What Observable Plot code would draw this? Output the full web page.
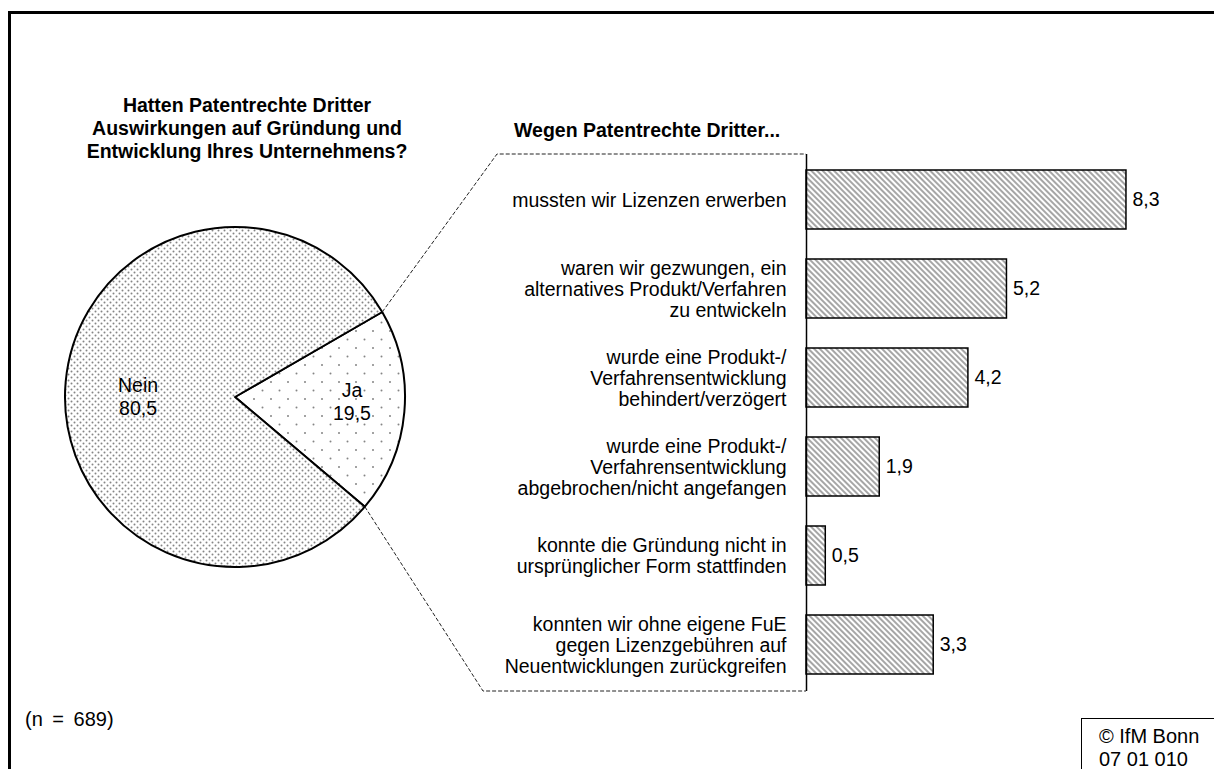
<!DOCTYPE html>
<html><head><meta charset="utf-8">
<script src="https://cdn.jsdelivr.net/npm/d3@7"></script>
<script src="https://cdn.jsdelivr.net/npm/@observablehq/plot@0.6"></script>
<style>
html,body{margin:0;padding:0;overflow:hidden;background:#fff;width:1214px;height:769px}
#wrap{position:relative;width:1214px;height:769px;font-family:"Liberation Sans",Arial,sans-serif;color:#000;overflow:hidden}
.abs{position:absolute;white-space:nowrap}
#wrap svg{position:absolute;left:0;top:0}
</style></head><body><div id="wrap"></div>
<script>
// ---- data ----
const pieLabels = ["Ja", "Nein"];
const pieValues = [19.5, 80.5];
const barCategories = [
  "mussten wir Lizenzen erwerben",
  "waren wir gezwungen, ein\nalternatives Produkt/Verfahren\nzu entwickeln",
  "wurde eine Produkt-/\nVerfahrensentwicklung\nbehindert/verzögert",
  "wurde eine Produkt-/\nVerfahrensentwicklung\nabgebrochen/nicht angefangen",
  "konnte die Gründung nicht in\nursprünglicher Form stattfinden",
  "konnten wir ohne eigene FuE\ngegen Lizenzgebühren auf\nNeuentwicklungen zurückgreifen"
];
const barValues = [8.3, 5.2, 4.2, 1.9, 0.5, 3.3];
const titleLeft = ["Hatten Patentrechte Dritter", "Auswirkungen auf Gründung und", "Entwicklung Ihres Unternehmens?"];
const titleRight = "Wegen Patentrechte Dritter...";
const noteText = "(n = 689)";
const creditLines = ["© IfM Bonn", "07 01 010"];

const bars = barCategories.map((c, i) => ({category: c, value: barValues[i]}));
const fmt = v => v.toFixed(1).replace(".", ",");

// ---- layout ----
const W = 1214, H = 769;
const pieCx = 235, pieCy = 397, pieR = 170;
const pieStart = 60 * Math.PI / 180;
const boxTopX = 497, boxBottomX = 483;
const pieLabelOffset = [[117, 4.5], [-97, -0.5]];

function defsMark() {
  const defs = d3.create("svg:defs");
  const h = defs.append("pattern").attr("id", "hatch").attr("patternUnits", "userSpaceOnUse")
    .attr("width", 4).attr("height", 4).attr("patternTransform", "rotate(-45)");
  h.append("rect").attr("width", 4).attr("height", 4).attr("fill", "#fff");
  h.append("line").attr("x1", 1).attr("x2", 1).attr("y1", -1).attr("y2", 5)
    .attr("stroke", "#808080").attr("stroke-width", 1.4);
  const dd = defs.append("pattern").attr("id", "dotsDense").attr("patternUnits", "userSpaceOnUse")
    .attr("width", 6).attr("height", 6);
  dd.append("rect").attr("width", 6).attr("height", 6).attr("fill", "#fff");
  dd.append("circle").attr("cx", 1.5).attr("cy", 1.5).attr("r", 1).attr("fill", "#858585");
  dd.append("circle").attr("cx", 4.5).attr("cy", 4.5).attr("r", 1).attr("fill", "#858585");
  const ds = defs.append("pattern").attr("id", "dotsSparse").attr("patternUnits", "userSpaceOnUse")
    .attr("width", 17).attr("height", 17);
  ds.append("rect").attr("width", 17).attr("height", 17).attr("fill", "#fff");
  ds.append("circle").attr("cx", 2).attr("cy", 2).attr("r", 1).attr("fill", "#858585");
  ds.append("circle").attr("cx", 10.5).attr("cy", 10.5).attr("r", 1).attr("fill", "#858585");
  return defs.node();
}

function pieMark(index, scales, values, dims) {
  const g = d3.create("svg:g");
  const arcs = d3.pie().sort(null).startAngle(pieStart).endAngle(pieStart + 2 * Math.PI)(pieValues);
  const arc = d3.arc().innerRadius(0).outerRadius(pieR);
  const pg = g.append("g").attr("transform", `translate(${pieCx},${pieCy})`);
  pg.selectAll("path").data(arcs).join("path")
    .attr("d", arc)
    .attr("fill", (d, i) => i === 0 ? "url(#dotsSparse)" : "url(#dotsDense)")
    .attr("stroke", "#000").attr("stroke-width", 2).attr("stroke-linejoin", "round");
  arcs.forEach((a, i) => {
    const [x, y] = pieLabelOffset[i];
    const t = pg.append("text").attr("text-anchor", "middle").attr("font-size", 19.5);
    t.append("tspan").attr("x", x).attr("y", y - 11.5).attr("dy", "0.35em").text(pieLabels[i]);
    t.append("tspan").attr("x", x).attr("y", y + 11.5).attr("dy", "0.35em").text(fmt(pieValues[i]));
  });
  // dashed connectors from the "Ja" slice to the bar panel
  const ja = arcs[0];
  const pt = ang => [pieCx + pieR * Math.sin(ang), pieCy - pieR * Math.cos(ang)];
  const p0 = pt(ja.startAngle), p1 = pt(ja.endAngle);
  const x0 = scales.x(0);
  const yTop = dims.marginTop, yBot = dims.height - dims.marginBottom;
  g.append("path")
    .attr("d", `M${p0[0]},${p0[1]}L${boxTopX},${yTop}L${x0},${yTop}M${p1[0]},${p1[1]}L${boxBottomX},${yBot}L${x0},${yBot}`)
    .attr("fill", "none").attr("stroke", "#222").attr("stroke-width", 1).attr("stroke-dasharray", "4,2");
  return g.node();
}

const plot = Plot.plot({
  width: W,
  height: H,
  marginLeft: 806,
  marginRight: 22.5,
  marginTop: 154,
  marginBottom: 78,
  style: {fontFamily: "'Liberation Sans', Arial, sans-serif", fontSize: "19.5px", color: "#000", background: "transparent", overflow: "visible"},
  x: {domain: [0, 10], axis: null},
  y: {domain: barCategories, axis: null, paddingInner: 0.335, paddingOuter: 0.1675},
  marks: [
    defsMark,
    Plot.barX(bars, {x: "value", y: "category", fill: "url(#hatch)", stroke: "#000", strokeWidth: 1.5}),
    Plot.ruleX([0], {stroke: "#000", strokeWidth: 1.5}),
    Plot.text(bars, {x: 0, y: "category", text: "category", textAnchor: "end", dx: -20, lineHeight: 1.08, fill: "#000"}),
    Plot.text(bars, {x: "value", y: "category", text: d => fmt(d.value), textAnchor: "start", dx: 6, fill: "#000"}),
    pieMark
  ]
});

const wrap = document.getElementById("wrap");
wrap.appendChild(plot);

function addDiv(html, css) {
  const d = document.createElement("div");
  d.className = "abs";
  d.innerHTML = html;
  Object.assign(d.style, css);
  wrap.appendChild(d);
  return d;
}
// outer border (extends beyond the picture on the right and bottom)
addDiv("", {left: "8px", top: "11px", width: "1400px", height: "1000px", border: "3px solid #000", boxSizing: "border-box"});
addDiv(titleLeft.join("<br>"), {left: "47px", width: "400px", top: "94px", textAlign: "center", fontWeight: "bold", fontSize: "19.5px", lineHeight: "23px"});
addDiv(titleRight, {left: "514px", top: "119px", fontWeight: "bold", fontSize: "19.5px", lineHeight: "23px"});
addDiv(noteText, {left: "25px", top: "708px", fontSize: "20px", lineHeight: "23px", wordSpacing: "4px"});
addDiv(creditLines.join("<br>"), {left: "1081px", top: "718px", width: "300px", height: "200px", border: "1px solid #000", boxSizing: "border-box", padding: "6px 0 0 17px", fontSize: "20px", lineHeight: "23px"});
</script>
</body></html>
